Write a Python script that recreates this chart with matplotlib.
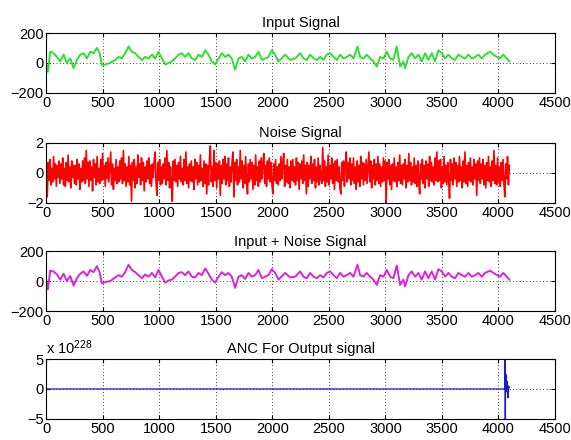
import numpy as np
import matplotlib.pyplot as plt

# sample index / value pairs
input_idx = [1, 15, 35, 65, 94, 124, 153, 183, 212, 242,
             271, 301, 330, 360, 389, 418, 448, 472, 492, 522,
             566, 610, 639, 669, 698, 728, 757, 787, 816, 846,
             875, 905, 934, 964, 993, 1023, 1052, 1082, 1111, 1140,
             1170, 1199, 1229, 1258, 1288, 1317, 1347, 1376, 1406, 1435,
             1465, 1494, 1524, 1553, 1583, 1612, 1641, 1671, 1700, 1730,
             1759, 1789, 1818, 1848, 1877, 1907, 1936, 1966, 1995, 2025,
             2054, 2113, 2157, 2202, 2246, 2275, 2305, 2334, 2364, 2393,
             2423, 2452, 2482, 2511, 2541, 2570, 2599, 2629, 2658, 2688,
             2717, 2753, 2776, 2806, 2835, 2865, 2894, 2924, 2953, 2983,
             3012, 3042, 3071, 3100, 3130, 3159, 3174, 3204, 3233, 3263,
             3292, 3321, 3351, 3380, 3410, 3439, 3469, 3498, 3528, 3557,
             3587, 3616, 3646, 3675, 3705, 3734, 3764, 3793, 3822, 3852,
             3881, 3926, 3955, 3985, 4014, 4043, 4073, 4096]
input_val = [-10, -60, 75, 65, 40, 10, 55, 0, 30, -35,
             20, 55, 65, 30, 75, 65, 100, 65, -15, -10,
             0, 20, 40, 30, 65, 110, 75, 65, 40, 20,
             40, 30, 55, 30, 75, 30, -10, 0, 10, 30,
             55, 65, 40, 65, 30, 20, 55, 40, 85, 55,
             10, -10, 30, 65, 40, 55, 30, -45, 30, 40,
             10, 55, 30, 40, 75, 20, 30, 40, 85, 55,
             10, 55, 20, 30, 65, 30, 20, 55, 30, 20,
             40, 20, 55, 65, 40, 20, 55, 30, 40, 55,
             30, 110, 40, 30, 55, 30, 10, -25, 40, 30,
             75, 30, 20, 110, -25, 10, -35, 40, 65, 30,
             55, 10, 65, 20, 65, 10, 85, 65, 30, 55,
             30, 20, 55, 40, 30, 55, 30, 40, 55, 30,
             55, 75, 55, 40, 30, 55, 30, 10]

# magenta trace (input + noise), read at the same sample positions
mixed_val = [-5, -55, 70, 65, 45, 10, 50, 0, 35, -30,
             20, 50, 65, 35, 75, 60, 100, 60, -15, -5,
             0, 25, 40, 30, 60, 110, 75, 60, 40, 20,
             45, 30, 55, 25, 75, 30, -10, 5, 10, 30,
             55, 60, 40, 65, 30, 25, 55, 40, 85, 50,
             10, -10, 30, 60, 40, 55, 30, -45, 30, 40,
             15, 55, 30, 40, 75, 20, 30, 40, 80, 55,
             10, 55, 25, 30, 65, 30, 20, 55, 30, 20,
             40, 25, 55, 65, 40, 20, 55, 30, 40, 55,
             30, 110, 40, 30, 55, 30, 10, -25, 40, 30,
             75, 30, 20, 105, -25, 10, -35, 40, 65, 30,
             55, 10, 65, 20, 65, 10, 80, 65, 30, 55,
             30, 20, 55, 40, 30, 55, 30, 40, 55, 30,
             55, 70, 55, 40, 30, 55, 30, 10]

# noise trace, 512 readings spread evenly over samples 1..4096
noise_val = [
    0.4, -1.6, 0.7, -0.5, 0.9, -0.8, 0.3, -0.6, 1.1, -0.4, 0.6, -0.9, 0.5, -0.3, 0.8, -0.7,
    0.6, -0.4, 1.0, -0.8, 0.3, -0.9, 0.7, -0.5, 1.2, -0.6, 0.4, -1.0, 0.8, -0.3, 0.5, -0.7,
    0.5, -0.8, 0.9, -0.4, 0.6, -1.1, 0.3, -0.6, 0.8, -0.5, 1.0, -0.7, 1.5, -0.4, 0.7, -0.9,
    0.8, -0.5, 0.4, -1.2, 0.9, -0.3, 0.6, -0.8, 1.1, -0.6, 0.3, -0.7, 0.9, -0.5, 1.3, -0.4,
    0.5, -0.9, 0.7, -0.4, 1.0, -0.6, 0.4, 1.4, -0.8, 0.6, -1.1, 0.3, -0.5, 0.9, -0.7, 0.4,
    -0.6, 0.8, -0.4, 1.0, -0.7, 1.5, -0.5, 0.6, -0.9, 0.4, -0.6, 1.1, -0.8, 0.5, -1.9, 0.7,
    -0.5, 0.9, -1.0, 0.4, -0.7, 1.2, -0.3, 0.6, -0.8, 1.0, -0.5, 0.7, -1.2, 0.4, -0.6, 0.8,
    -0.4, 1.0, -0.7, 0.5, -0.9, 0.6, -0.3, 0.8, 1.4, -0.6, -1.5, 0.7, -0.5, 0.9, -0.8, 0.4,
    -0.7, 0.6, -0.4, 1.0, -0.8, 1.5, -0.5, 0.7, -1.0, 0.4, -0.6, -1.9, 0.8, -0.5, 0.9, -0.6,
    0.5, -0.9, 0.7, -0.4, 1.1, -0.6, 0.3, -0.8, 0.9, -0.5, 1.4, -0.7, 0.4, -1.0, 0.6, -0.5,
    0.8, -0.6, 0.4, -1.1, 0.9, -0.4, 0.7, -0.8, 0.5, -0.6, 1.2, -0.5, 0.3, -0.9, 0.8, -0.7,
    0.6, -1.4, 0.5, -0.8, 0.9, 1.8, -0.6, 0.4, -0.9, 1.5, -0.5, 0.7, -1.0, 0.6, -0.4, 0.8,
    -1.5, 0.5, -0.7, 0.9, -0.4, 1.1, -0.8, 0.6, -0.5, 1.0, -0.9, 0.4, -0.6, 0.8, 1.4, -1.6,
    0.7, -0.5, 0.9, -0.8, 0.4, -0.6, 1.5, -0.4, 0.8, -1.0, 0.5, -0.7, 1.1, -0.5, -1.4, 0.6,
    -0.6, 0.9, -0.4, 0.7, -1.1, 0.5, -0.8, 1.2, -0.5, 0.4, -0.9, 0.8, -0.6, 1.0, -0.4, 0.7,
    1.3, -0.7, 0.5, -0.9, 0.8, -0.4, 1.0, -0.6, 0.7, -0.8, -1.4, 0.6, -0.5, 0.9, -0.7, 0.4,
    -0.8, 0.6, -0.5, 1.1, -0.4, 0.7, 1.3, -0.9, 0.5, -0.6, 0.9, -0.7, 0.4, -1.0, 0.8, -0.5,
    0.9, -0.6, 0.4, -0.8, 1.0, -0.5, 0.7, -1.1, 0.6, -0.4, 0.8, -0.7, 1.2, -0.5, 0.5, -1.4,
    0.7, -0.9, 0.5, -0.4, 1.1, -0.7, 0.6, -0.5, 0.9, -1.0, 0.4, -0.6, 1.0, -0.8, 0.5, -0.4,
    -0.7, 1.7, -0.5, 0.8, -0.9, 0.4, -0.6, 1.2, -0.8, 0.5, -0.4, 1.0, -0.7, 0.6, -1.1, 0.8,
    -0.5, 0.9, -0.6, 0.4, -1.0, -1.4, 0.7, -0.5, 0.8, -0.9, 0.5, 1.4, -0.6, 0.7, -0.4, 1.0,
    -0.8, 0.6, -0.5, 1.0, -0.7, 0.4, -1.1, 0.8, -0.6, 0.5, -0.9, 1.1, -0.4, 0.7, -0.8, 0.6,
    -0.5, 0.9, -0.7, 0.4, 1.4, -0.6, 0.8, -1.0, 0.5, -0.4, 0.9, -0.8, 0.6, -0.5, 1.1, -0.7,
    0.6, -0.9, 0.4, -0.6, 1.0, -0.5, 0.8, -2.0, 0.7, -0.4, 0.9, -0.8, 0.5, -1.1, 0.6, -0.5,
    1.0, -0.6, 0.4, -0.9, 0.7, -0.5, 1.2, -0.7, 0.5, -0.8, 0.6, -0.4, 0.9, -1.0, 0.5, -0.6,
    1.3, -0.5, 0.7, -0.8, 0.4, -0.6, 1.0, -0.7, 0.5, -0.9, 0.8, -0.5, -1.4, 0.6, -0.4, 0.9,
    -0.7, 0.5, -1.0, 0.8, -0.4, 0.6, -0.9, 1.1, -0.5, 0.7, -0.6, 0.4, -0.8, 1.0, -0.5, 1.4,
    -0.6, 0.8, -0.5, 0.9, -1.0, 0.4, -0.7, 1.1, -0.6, 0.5, -0.8, 0.7, -0.4, -1.7, 0.9, -0.5,
    0.6, -0.8, 1.0, -0.4, 0.7, -0.9, 0.5, -0.6, 1.1, -0.5, 0.4, -1.0, 0.8, -0.6, 1.4, -0.7,
    0.5, -0.9, 0.7, -0.5, 1.0, -0.6, 0.4, -0.8, 0.9, -0.4, 0.6, -1.5, 0.8, -0.5, 1.0, -0.7,
    0.6, -0.4, 0.9, -0.8, 0.5, -1.0, 0.7, -0.5, 1.1, -0.6, 0.4, -0.9, 0.8, -0.5, 1.5, -0.7,
    0.5, -0.8, 1.0, -0.6, 0.4, -0.9, 0.7, -0.5, 0.9, -0.7, -1.6, 0.6, -0.4, 1.1, -0.8, 0.5,
]
noise_idx = np.linspace(1, 4096, len(noise_val))

# ANC output, in units of 1e228 (blows up near the end)
anc_idx = [1, 4050, 4057, 4058, 4059, 4062, 4066, 4070, 4074, 4078, 4083, 4089, 4096]
anc_val = [0, 0, 0, 60, -60, 2.7, 1.0, 2.3, -0.5, 1.2, -1.5, 0.5, 0.2]

xticks = [0, 500, 1000, 1500, 2000, 2500, 3000, 3500, 4000, 4500]

plt.rcParams['font.family'] = ['Liberation Sans', 'DejaVu Sans']
plt.rcParams['mathtext.default'] = 'regular'
fs = 10.5

fig = plt.figure(figsize=(5.71, 4.40), dpi=100)
left, width, height = 0.081, 0.891, 0.136
bottoms = [0.789, 0.539, 0.293, 0.048]


def setup(ax, ylim, yticks, title):
    ax.set_xlim(0, 4500)
    ax.set_ylim(*ylim)
    ax.set_xticks(xticks)
    ax.set_yticks(yticks)
    ax.set_title(title, fontsize=fs, pad=4)
    ax.grid(True, color='black', linestyle=(0, (1, 3)), linewidth=0.6)
    ax.tick_params(direction='in', top=True, right=True, length=3,
                   labelsize=fs, pad=2)
    for s in ax.spines.values():
        s.set_linewidth(0.8)


ax1 = fig.add_axes([left, bottoms[0], width, height])
ax1.plot(input_idx, input_val, color='#2ee02e', linewidth=1.4)
setup(ax1, (-200, 200), [-200, 0, 200], 'Input Signal')

ax2 = fig.add_axes([left, bottoms[1], width, height])
ax2.plot(noise_idx, noise_val, color='#ff0000', linewidth=1.2)
setup(ax2, (-2, 2), [-2, 0, 2], 'Noise Signal')

ax3 = fig.add_axes([left, bottoms[2], width, height])
ax3.plot(input_idx, mixed_val, color='#dd22dd', linewidth=1.4)
setup(ax3, (-200, 200), [-200, 0, 200], 'Input + Noise Signal')

ax4 = fig.add_axes([left, bottoms[3], width, height])
ax4.plot(anc_idx, anc_val, color='#1a1acc', linewidth=0.9)
setup(ax4, (-5, 5), [-5, 0, 5], 'ANC For Output signal')
ax4.text(0.0, 1.04, r'x 10$^{228}$', transform=ax4.transAxes,
         fontsize=fs, ha='left', va='bottom')

fig.savefig('out.png', dpi=100)
